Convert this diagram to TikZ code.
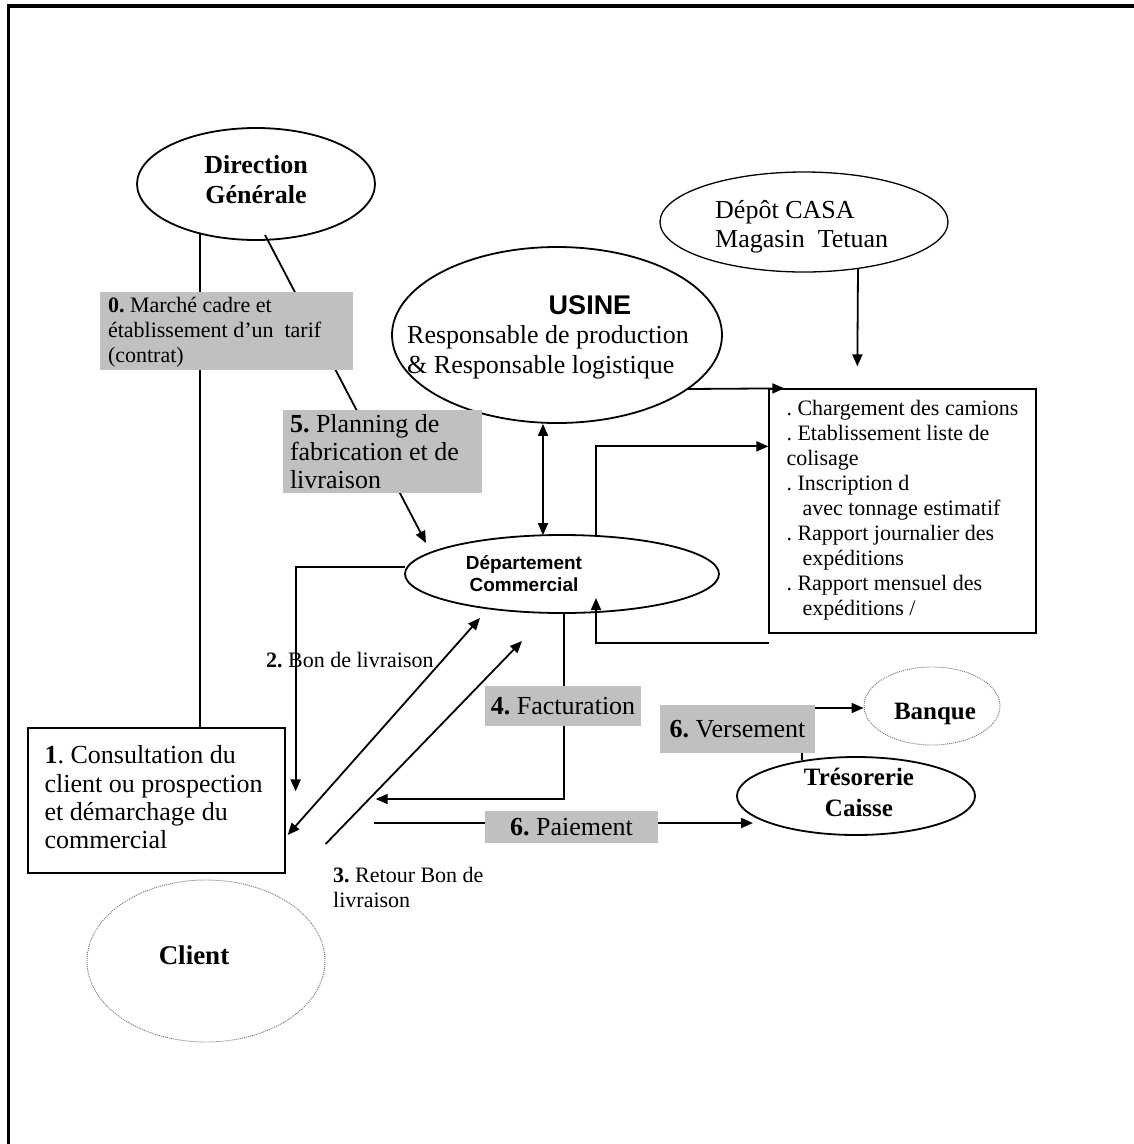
\documentclass[tikz,border=0pt]{standalone}
\usepackage{fontspec}
\setmainfont{Liberation Serif}
\newfontfamily\arialf{Liberation Sans}
\usetikzlibrary{arrows.meta,shapes.geometric,calc}
\pgfdeclarelayer{bg}
\pgfsetlayers{bg,main}
\definecolor{grayfill}{RGB}{192,192,192}
\newcommand{\fsz}[2]{\fontsize{#1}{#2}\selectfont}
\frenchspacing
\begin{document}
\begin{tikzpicture}[x=1pt,y=-1pt,
  conn/.style={line width=1.8pt},
  arr/.style={conn,-{Triangle[length=12pt,width=10pt]}},
  darr/.style={conn,{Triangle[length=12pt,width=10pt]}-{Triangle[length=12pt,width=10pt]}},
  ell/.style={ellipse,draw,line width=1.8pt,inner sep=0pt},
  dotell/.style={ellipse,draw=black!55,line width=0.9pt,dash pattern=on 1pt off 1pt,inner sep=0pt},
  gbox/.style={rectangle,fill=grayfill,inner sep=0pt},
  wbox/.style={rectangle,draw,line width=1.3pt,inner sep=0pt},
  txt/.style={inner sep=0pt,align=center},
  ltxt/.style={inner sep=0pt,anchor=west,align=left}
]
\useasboundingbox (0,0) rectangle (1134,1144);
% frame
\draw[line width=3.6pt] (8.5,1144) -- (8.5,6) -- (1134,6);

% ellipses
\node[ell,minimum width=238pt,minimum height=112pt] (dg) at (256,184) {};
\node[ell,minimum width=330pt,minimum height=176pt] (usine) at (557,335) {};
\node[ell,line width=1.3pt,minimum width=288pt,minimum height=100pt] (depot) at (804,222) {};
\node[ell,minimum width=314pt,minimum height=78pt] (dept) at (562,574) {};
\node[ell,minimum width=238pt,minimum height=78pt] (treso) at (856,796) {};
\node[dotell,minimum width=136pt,minimum height=78pt] (banque) at (932,706) {};
\node[dotell,minimum width=238pt,minimum height=162pt] (client) at (206,961) {};

% ellipse texts
\node[txt,font=\fsz{26}{30}\bfseries] (dgtext) at (256,180) {Direction\\Générale};
\node[txt,font=\fsz{27}{30}\arialf\bfseries] (usinetitle) at (590,305) {USINE};
\node[ltxt,font=\fsz{26}{30}] (usinetext) at (407,352) {Responsable de production\\\& Responsable logistique};
\node[ltxt,font=\fsz{26}{29}] (depottext) at (715,227) {Dépôt CASA\\Magasin\ \ Tetuan};
\node[txt,font=\fsz{19}{22}\arialf\bfseries] (depttext) at (524,574) {Département\\Commercial};
\node[txt,font=\fsz{25}{31}\bfseries] (tresotext) at (859,792) {Trésorerie\\Caisse};
\node[txt,font=\fsz{25}{30}\bfseries] (banquetext) at (935,714) {Banque};
\node[txt,font=\fsz{27}{30}\bfseries] (clienttext) at (194,955) {Client};

% white boxes
\node[wbox,minimum width=257pt,minimum height=145pt] (box1) at (156.5,800.5) {};
\node[ltxt,font=\fsz{26}{28.3}] (box1text) at ($(box1.west)+(17,-3)$)
  {\textbf{1}. Consultation du\\client ou prospection\\et démarchage du\\commercial};
\node[wbox,minimum width=267pt,minimum height=244pt] (rbox) at (902.5,511) {};
\node[ltxt,font=\fsz{22}{25}] (rboxtext) at ($(rbox.west)+(18,-1)$)
  {. Chargement des camions\\
   . Etablissement liste de\\
   colisage\\
   . Inscription d\\
   \hspace*{16pt}avec tonnage estimatif\\
   . Rapport journalier des\\
   \hspace*{16pt}expéditions\\
   . Rapport mensuel des\\
   \hspace*{16pt}expéditions /};

% gray label boxes
\node[gbox,minimum width=253pt,minimum height=78pt] (g0) at (226.5,331) {};
\node[ltxt,font=\fsz{22}{25}] (g0text) at ($(g0.west)+(8,1)$)
  {\textbf{0.} Marché cadre et\\établissement d’un\ \ tarif\\(contrat)};
\node[gbox,minimum width=199pt,minimum height=83pt] (g5) at (382.5,451.5) {};
\node[ltxt,font=\fsz{26}{28}] (g5text) at ($(g5.west)+(7,0)$)
  {\textbf{5.} Planning de\\fabrication et de\\livraison};
\node[gbox,minimum width=156pt,minimum height=40pt,align=center,font=\fsz{26}{28}] (g4) at (563,706)
  {\textbf{4.} Facturation};
\node[gbox,minimum width=155pt,minimum height=48pt,align=center,font=\fsz{26}{28}] (g6v) at (737.5,729)
  {\textbf{6.} Versement};
\node[gbox,minimum width=173pt,minimum height=32pt,align=center,font=\fsz{26}{28}] (g6p) at (571.5,827)
  {\textbf{6.} Paiement};

% free labels
\node[ltxt,font=\fsz{22}{25}] (lab2) at (266,660) {\textbf{2.} Bon de livraison};
\node[ltxt,font=\fsz{22}{25}] (lab3) at (333,887) {\textbf{3.} Retour Bon de\\livraison};

% connectors (under gray boxes)
\begin{pgfonlayer}{bg}
\draw[conn] ($(dg.center)+(-56,49)$) coordinate (a1) -- (a1 |- box1.north);
\draw[arr] ($(dg.south)+(9,-6)$) -- ($(dept.center)+(-136,-31)$);
\draw[arr] ($(usine.center)+(130,54)$) -- ($(rbox.north west)+(16,0)$);
\draw[arr] ($(depot.center)+(54,46)$) -- ($(rbox.north west)+(89,-22)$);
\draw[darr] ($(usine.south)+(-14,0)$) -- ($(dept.north)+(-19,1)$);
\draw[arr] ($(dept.north)+(34,1)$) |- ($(rbox.north west)+(0,58)$);
\draw[arr] ($(rbox.south west)+(1,9)$) -| ($(dept.center)+(34,24)$);
\draw[arr] ($(dept.west)+(1,-7)$) -| ($(box1.north east)+(10,64)$);
\draw[darr] ($(dept.center)+(-82,44)$) -- ($(box1.east)+(2,34.5)$);
\draw[arr] ($(box1.east)+(40,43.5)$) -- ($(dept.center)+(-40,67)$);
\draw[arr] ($(dept.south)+(2,0)$) |- ($(box1.east)+(90,-1.5)$);
\draw[arr] ($(box1.east)+(88,22.5)$) -- ($(treso.center)+(-103,27)$);
\draw[arr] ($(treso.north)+(-54,4)$) |- ($(banque.west)+(0,2)$);
\end{pgfonlayer}
\end{tikzpicture}
\end{document}
